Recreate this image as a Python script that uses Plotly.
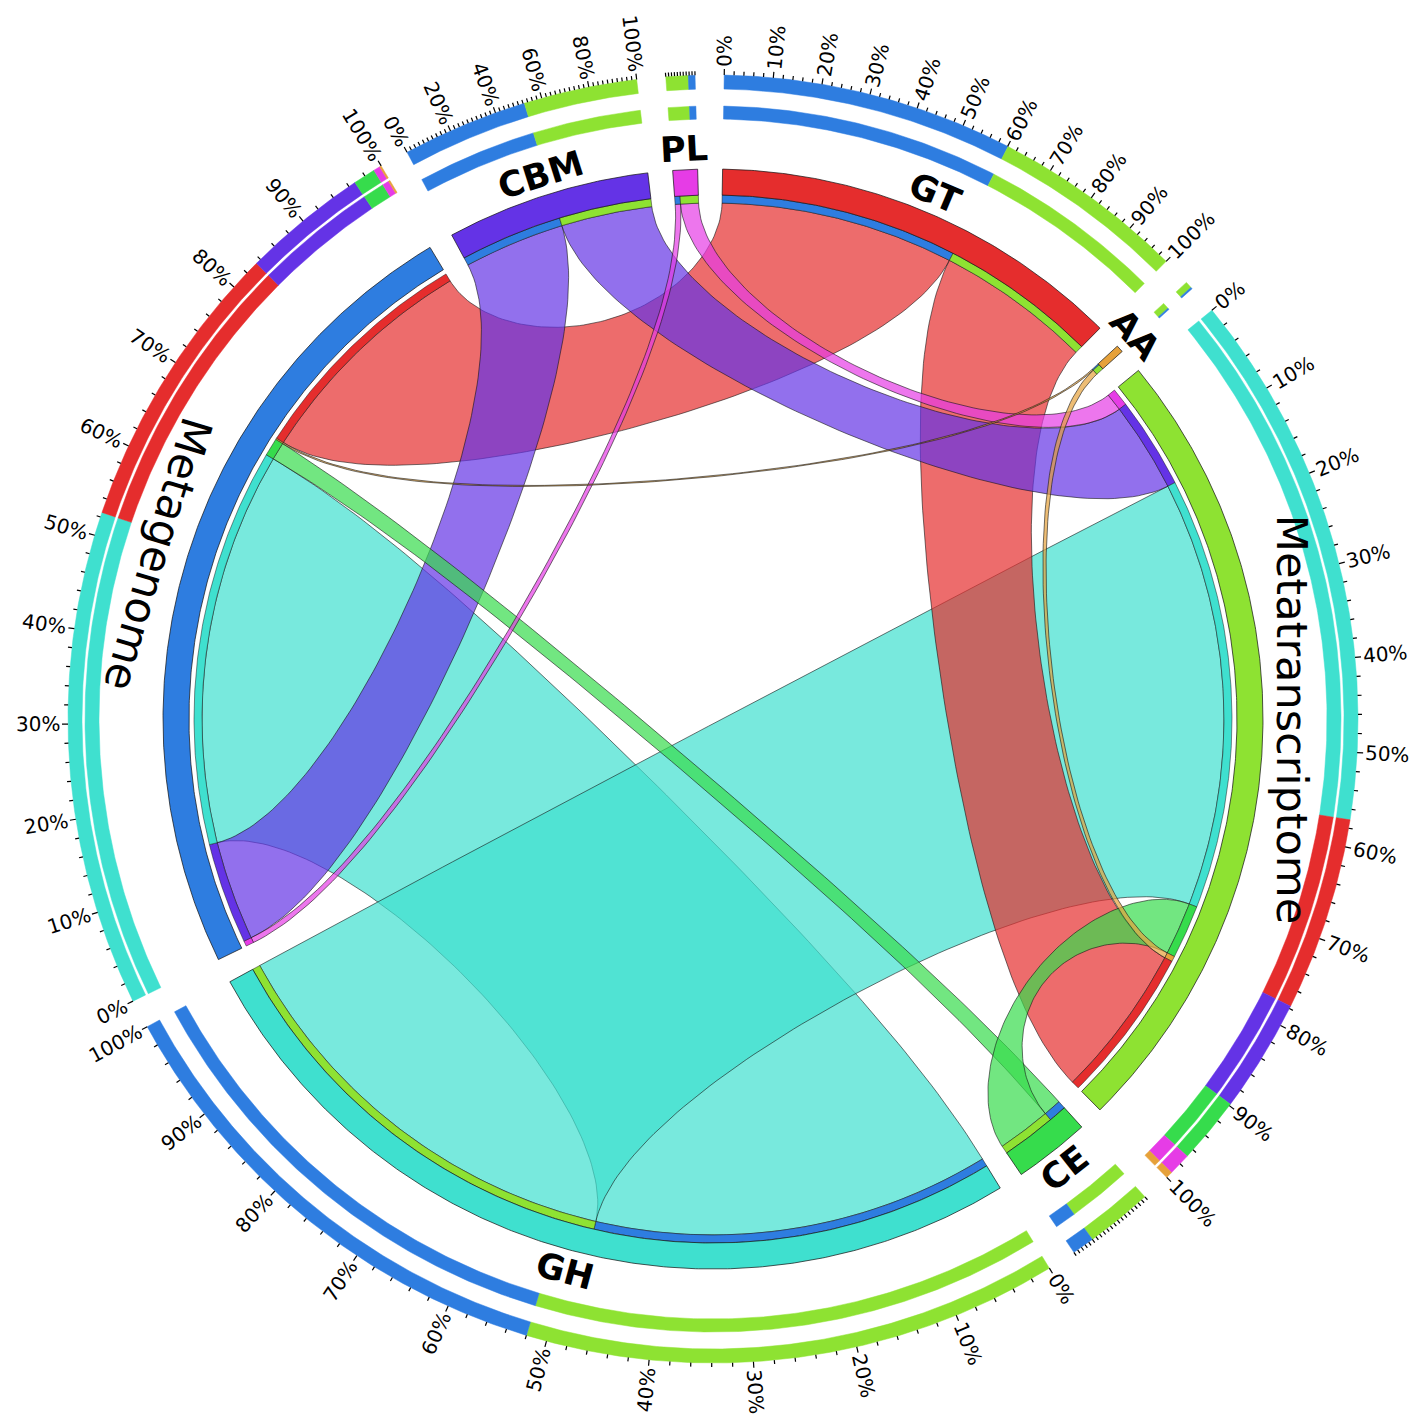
import numpy as np
import plotly.graph_objects as go

# samples and CAZy classes
samples = ["Metagenome", "Metatranscriptome"]
classes = ["GH", "GT", "CBM", "CE", "PL", "AA"]

# link values (sample -> class), same order as classes
metagenome = [44.5, 26.2, 11.3, 2.0, 0.6, 0.15]
metatranscriptome = [48.2, 17.4, 10.2, 6.0, 2.0, 0.6]

# order of the segments clockwise from the top
segment_order = ["GT", "AA", "Metatranscriptome", "CE", "GH", "Metagenome", "CBM", "PL"]
# order of ribbon ends inside a segment (clockwise)
sample_link_order = ["PL", "CBM", "GH", "CE", "AA", "GT"]
class_link_order = ["Metagenome", "Metatranscriptome"]

tick_labels_10 = ["0%", "10%", "20%", "30%", "40%", "50%", "60%", "70%", "80%", "90%", "100%"]
tick_labels_20 = ["0%", "20%", "40%", "60%", "80%", "100%"]

colors = {
    "GH": "#3fe0cf", "GT": "#e52d2d", "CBM": "#6433e6", "CE": "#36dc4c",
    "PL": "#e63ce6", "AA": "#e6a13a",
    "Metagenome": "#2e7de0", "Metatranscriptome": "#8ee232",
}

link = {}
for c, v in zip(classes, metagenome):
    link[("Metagenome", c)] = v
for c, v in zip(classes, metatranscriptome):
    link[("Metatranscriptome", c)] = v

seg_total = {s: sum(link[(s, c)] for c in classes) for s in samples}
seg_total.update({c: sum(link[(s, c)] for s in samples) for c in classes})

GAP = 2.6
START = 1.0
k = (360 - GAP * len(segment_order)) / sum(seg_total.values())
seg_start, seg_end = {}, {}
a = START
for seg in segment_order:
    seg_start[seg] = a
    seg_end[seg] = a + seg_total[seg] * k
    a = seg_end[seg] + GAP

# ribbon end positions
end_pos = {}
for seg in segment_order:
    a = seg_start[seg]
    keys = [(seg, c) for c in sample_link_order] if seg in samples else [(s, seg) for s in class_link_order]
    for key in keys:
        w = link[key] * k
        end_pos[(seg, key)] = (a, a + w)
        a += w

R_IDEO = (524, 550)
R_CAP_S = (511, 519)
R_CAP_C = (516, 524)
RINGS_S = [(614, 628), (631, 645)]
RINGS_C = [(600, 613), (630, 644)]


def pol(r, th):
    th = np.radians(th)
    return r * np.sin(th), r * np.cos(th)


def rgba(h, al):
    h = h.lstrip("#")
    return "rgba(%d,%d,%d,%.2f)" % (int(h[0:2], 16), int(h[2:4], 16), int(h[4:6], 16), al)


def arc(a0, a1, r):
    n = max(3, int(abs(a1 - a0) * 3) + 2)
    th = np.linspace(a0, a1, n)
    x, y = pol(r, th)
    return np.column_stack([x, y])


def sector(a0, a1, r0, r1):
    pts = np.vstack([arc(a0, a1, r1), arc(a1, a0, r0)])
    pts = np.vstack([pts, pts[:1]])
    return pts[:, 0], pts[:, 1]


def bez(p0, p4):
    # circos-like ribbon edge: control at 0.75 of chord middle, crest 0.5
    p0 = np.array(p0)
    p4 = np.array(p4)
    c = 0.75 * (p0 + p4) / 2
    rc = np.hypot(*c)
    r0 = np.hypot(*p0)
    r4 = np.hypot(*p4)
    p1 = p0 / r0 * (r0 - 0.5 * (r0 - rc))
    p3 = p4 / r4 * (r4 - 0.5 * (r4 - rc))
    t = np.linspace(0, 1, 90)[:, None]
    return ((1 - t) ** 4 * p0 + 4 * (1 - t) ** 3 * t * p1 + 6 * (1 - t) ** 2 * t ** 2 * c
            + 4 * (1 - t) * t ** 3 * p3 + t ** 4 * p4)


fig = go.Figure()


def add_poly(x, y, fill, line_color, lw):
    fig.add_trace(go.Scatter(x=x, y=y, mode="lines", fill="toself", fillcolor=fill,
                             line=dict(color=line_color, width=lw), hoverinfo="skip",
                             showlegend=False))


# ribbons
for c in classes:
    for s in samples:
        a0, a1 = end_pos[(c, (s, c))]
        b0, b1 = end_pos[(s, (s, c))]
        arc_a = arc(a0, a1, R_CAP_C[0])
        arc_b = arc(b0, b1, R_CAP_S[0])
        pts = np.vstack([arc_a, bez(arc_a[-1], arc_b[0]), arc_b, bez(arc_b[-1], arc_a[0])])
        add_poly(pts[:, 0], pts[:, 1], rgba(colors[c], 0.7), "rgba(20,20,20,0.85)", 0.7)

# cap bands at ribbon ends
for (seg, key), (a0, a1) in end_pos.items():
    if seg in samples:
        x, y = sector(a0, a1, *R_CAP_S)
        col = colors[key[1]]
    else:
        x, y = sector(a0, a1, *R_CAP_C)
        col = colors[key[0]]
    add_poly(x, y, col, "rgba(20,20,20,0.8)", 0.6)

# ideograms
for seg in segment_order:
    x, y = sector(seg_start[seg], seg_end[seg], *R_IDEO)
    add_poly(x, y, colors[seg], "rgba(20,20,20,0.9)", 0.8)

# outer composition rings (sorted by size)
for seg in segment_order:
    if seg in samples:
        comp = sorted([(link[(seg, c)], c) for c in classes], reverse=True)
        rings = RINGS_S
    else:
        comp = sorted([(link[(s, seg)], s) for s in samples], reverse=True)
        rings = RINGS_C
    for r0, r1 in rings:
        a = seg_start[seg]
        for v, name in comp:
            w = v * k
            x, y = sector(a, a + w, r0, r1)
            add_poly(x, y, colors[name], colors[name], 0.5)
            a += w

# ticks and tick labels
label_sets = {"GT": tick_labels_10, "GH": tick_labels_10, "Metagenome": tick_labels_10,
              "Metatranscriptome": tick_labels_10, "CBM": tick_labels_20}
tick_step = {"GT": 2, "GH": 2, "Metagenome": 2, "Metatranscriptome": 2, "CBM": 2,
             "CE": 5, "PL": 10}
tx, ty = [], []
annotations = []
FS = 20
for seg in segment_order:
    if seg not in tick_step:
        continue
    r_out = (RINGS_S if seg in samples else RINGS_C)[1][1]
    span = seg_end[seg] - seg_start[seg]
    labels = label_sets.get(seg, [])
    lab_step = 100 / (len(labels) - 1) if labels else None
    for p in np.arange(0, 100.001, tick_step[seg]):
        th = seg_start[seg] + p / 100 * span
        major = lab_step is not None and abs(p / lab_step - round(p / lab_step)) < 1e-6
        x0, y0 = pol(r_out, th)
        x1, y1 = pol(r_out + (6 if major else 4), th)
        tx += [x0, x1, None]
        ty += [y0, y1, None]
    for i, lab in enumerate(labels):
        p = i * lab_step
        th = seg_start[seg] + p / 100 * span
        w = FS * (0.636 * (len(lab) - 1) + 0.95)
        xc, yc = pol(r_out + 8 + w / 2, th)
        ang = th - 90 if 0 < th % 360 <= 180 else th - 270
        ang = (ang + 180) % 360 - 180
        annotations.append(dict(x=xc, y=yc, text=lab, showarrow=False, textangle=ang,
                                xanchor="center", yanchor="middle",
                                font=dict(family="DejaVu Sans", size=FS, color="black")))

fig.add_trace(go.Scatter(x=tx, y=ty, mode="lines", line=dict(color="black", width=1.2),
                         hoverinfo="skip", showlegend=False))

# segment labels
label_shift = {"Metatranscriptome": -3}
for seg in segment_order:
    th = (seg_start[seg] + seg_end[seg]) / 2 + label_shift.get(seg, 0)
    big = seg in samples
    xc, yc = pol(579 if big else 571, th)
    ang = th if (th < 95 or th > 315) else th - 180
    ang = (ang + 180) % 360 - 180
    text = seg if big else "<b>%s</b>" % seg
    annotations.append(dict(x=xc, y=yc, text=text, showarrow=False, textangle=ang,
                            xanchor="center", yanchor="middle",
                            font=dict(family="DejaVu Sans", size=43 if big else 35, color="black")))

CX, CY = 705, 711
W, H = 1418, 1419
fig.update_layout(
    width=W, height=H, margin=dict(l=0, r=0, t=0, b=0),
    paper_bgcolor="white", plot_bgcolor="white",
    xaxis=dict(range=[-CX, W - CX], visible=False, fixedrange=True),
    yaxis=dict(range=[-(H - CY), CY], visible=False, fixedrange=True),
    annotations=annotations,
)

fig.write_html("out.html")
